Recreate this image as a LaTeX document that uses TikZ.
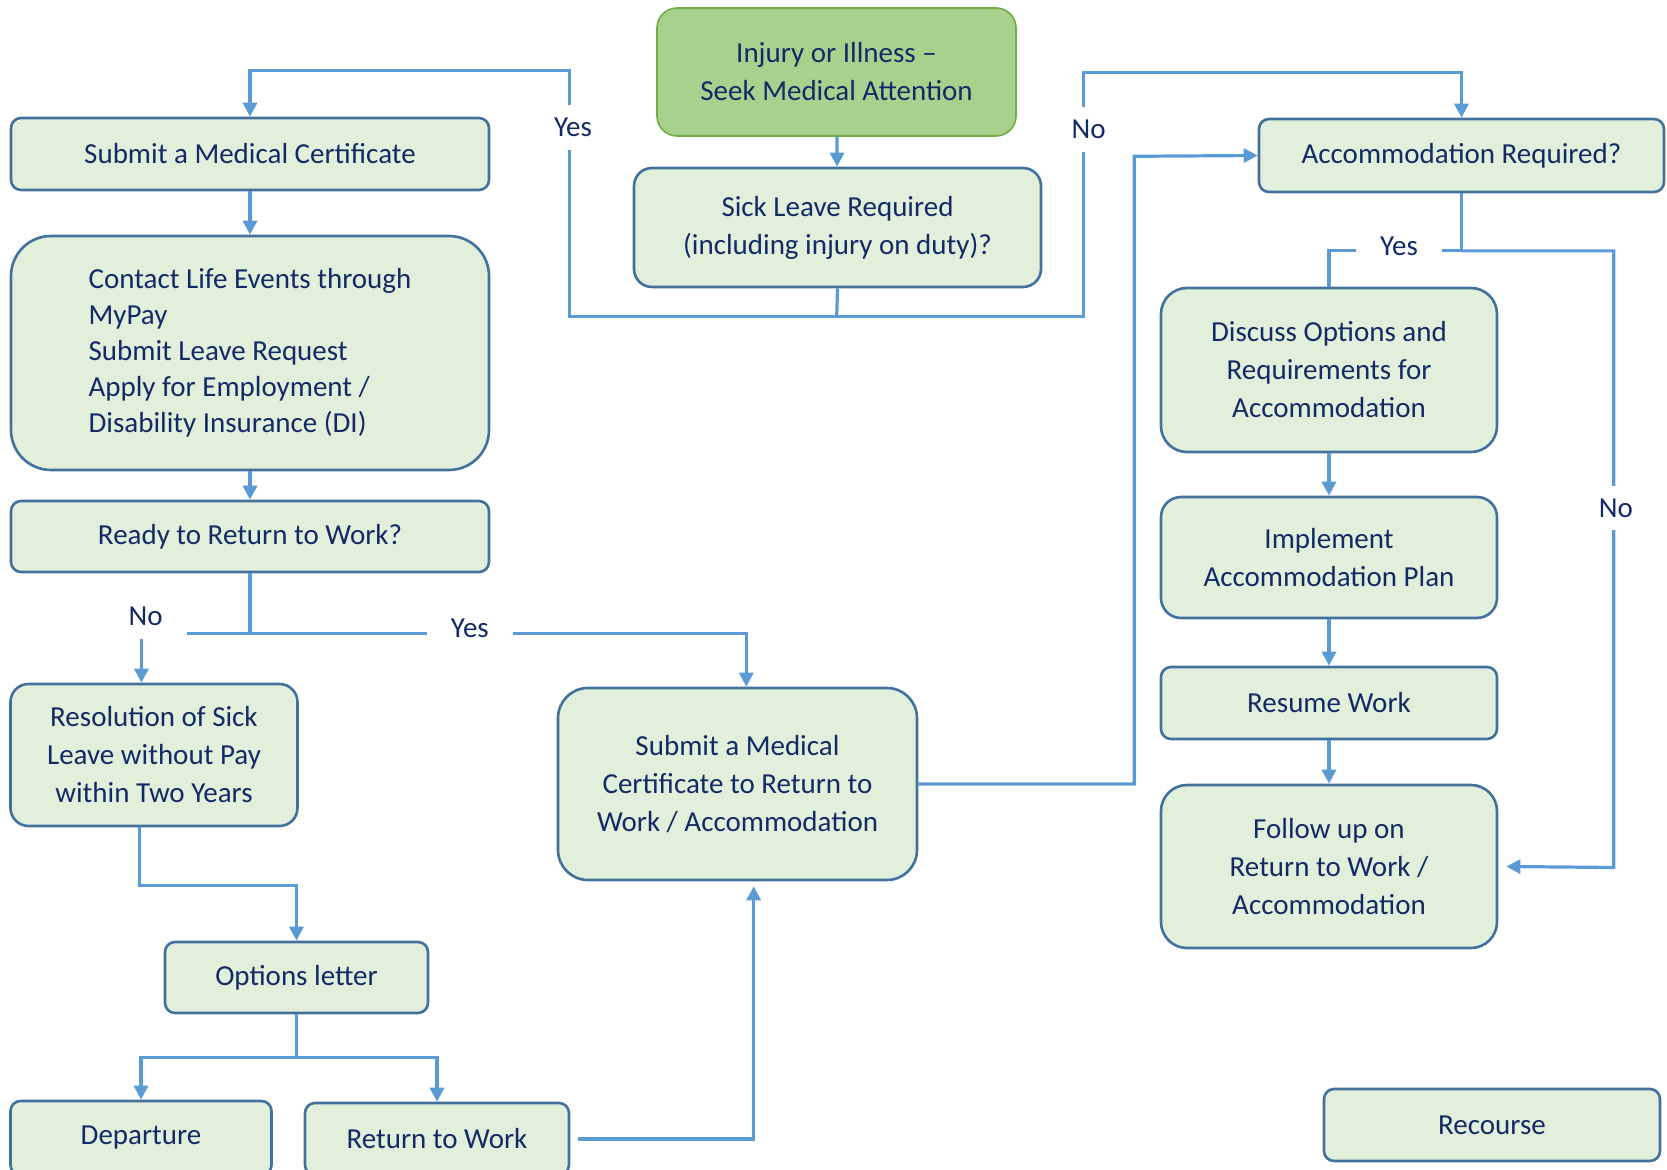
\documentclass[tikz,border=0pt]{standalone}
\usepackage{fontspec}
\setmainfont{Carlito}
\usetikzlibrary{arrows.meta}
\definecolor{boxfill}{HTML}{E2EFDA}
\definecolor{boxline}{HTML}{41719C}
\definecolor{topfill}{HTML}{A9D18E}
\definecolor{topline}{HTML}{70AD47}
\definecolor{conn}{HTML}{5B9BD5}
\definecolor{txt}{HTML}{132A67}
\tikzset{
	box/.style={draw=boxline,fill=boxfill,line width=1.3pt,rounded corners=5pt,text=txt,align=center,inner sep=0pt,font=\fontsize{14.5}{19}\selectfont},
	topbox/.style={box,draw=topline,fill=topfill,line width=0.8pt,rounded corners=10pt},
	link/.style={draw=conn,line width=1.6pt},
	arr/.style={link,-{Triangle[length=7pt,width=7pt]}},
	lbl/.style={fill=white,text=txt,inner xsep=12pt,inner ysep=6.5pt,font=\fontsize{14.5}{19}\selectfont}
}
\begin{document}
\begin{tikzpicture}[x=0.5pt,y=-0.5pt]
		\useasboundingbox (0,0) rectangle (1667,1170);
		\node[topbox,minimum width=179.5pt,minimum height=64pt] (top) at (836.5,72) {Injury or Illness --\\Seek Medical Attention};
		\node[box,rounded corners=9pt,minimum width=203.5pt,minimum height=59.5pt] (sick) at (837.5,227.5) {Sick Leave Required\\(including injury on duty)?};
		\node[box,minimum width=239pt,minimum height=36pt] (cert) at (250,154) {Submit a Medical Certificate};
		\node[box,rounded corners=20pt,align=left,minimum width=239pt,minimum height=117pt,font=\fontsize{14.5}{18}\selectfont] (contact) at (250,353) {Contact Life Events through\\MyPay\\Submit Leave Request\\Apply for Employment /\\Disability Insurance (DI)};
		\node[box,minimum width=239pt,minimum height=35.5pt] (ready) at (250,536.5) {Ready to Return to Work?};
		\node[box,rounded corners=9pt,minimum width=143.5pt,minimum height=71pt] (resol) at (154,755) {Resolution of Sick\\Leave without Pay\\within Two Years};
		\node[box,minimum width=131.5pt,minimum height=35.5pt] (letter) at (296.5,977.5) {Options letter};
		\node[box,minimum width=130.5pt,minimum height=37pt] (depart) at (141,1138) {Departure};
		\node[box,minimum width=132pt,minimum height=36pt] (rtw) at (437,1139) {Return to Work};
		\node[box,rounded corners=15pt,minimum width=179.5pt,minimum height=96pt] (certrtw) at (737.5,784) {Submit a Medical\\Certificate to Return to\\Work / Accommodation};
		\node[box,minimum width=202.5pt,minimum height=36.5pt] (accom) at (1461.5,155.5) {Accommodation Required?};
		\node[box,rounded corners=13pt,minimum width=168pt,minimum height=82pt] (discuss) at (1329,370) {Discuss Options and\\Requirements for\\Accommodation};
		\node[box,rounded corners=10pt,minimum width=168pt,minimum height=60.5pt] (plan) at (1329,557.5) {Implement\\Accommodation Plan};
		\node[box,minimum width=168pt,minimum height=36pt] (resume) at (1329,703) {Resume Work};
		\node[box,rounded corners=13pt,minimum width=168pt,minimum height=81.5pt] (follow) at (1329,866.5) {Follow up on\\Return to Work /\\Accommodation};
		\node[box,minimum width=168pt,minimum height=36pt] (recourse) at (1492,1125) {Recourse};
		\draw[arr] (top) -- (sick);
		\draw[link] (sick.south) -- (836.7,316.8);
		\draw[arr] (836.7,316.8) -| (569.8,70.2) -| (cert.north);
		\draw[arr] (836.7,316.8) -| (1083.3,72.3) -| (accom.north);
		\draw[arr] (cert) -- (contact);
		\draw[arr] (contact) -- (ready);
		\draw[arr] (ready.south) |- (141.4,633.6) -- (141.4,633.6 |- resol.north);
		\draw[arr] (ready.south) |- (746.3,633.6) -- (746.3,633.6 |- certrtw.north);
		\draw[arr] (139.3,0 |- resol.south) |- (296.5,885.5) -- (letter.north);
		\draw[link] (letter.south) -- (296.5,1057.8);
		\draw[arr] (296.5,1057.8) -| (depart.north);
		\draw[arr] (296.5,1057.8) -| (rtw.north);
		\draw[arr] ([xshift=4pt]rtw.east) -| ([yshift=-2.5pt]753.7,0 |- certrtw.south);
		\draw[arr] (certrtw.east) -| (1134.3,156.3) -- (accom.west);
		\draw[link] (accom.south) -- (1461.5,250.9) -| (discuss.north);
		\draw[arr] (1461.5,250.9) -| (1613.8,867.5) -- ([xshift=4pt]follow.east);
		\draw[arr] (discuss) -- (plan);
		\draw[arr] (plan) -- (resume);
		\draw[arr] (resume) -- (follow);
		\node[lbl] (yesA) at (573,127.6) {Yes};
		\node[lbl] (noA) at (1088.6,129.7) {No};
		\node[lbl] (noB) at (145.6,616.6) {No};
		\node[lbl] (yesB) at (469.9,628.3) {Yes};
		\node[lbl] (yesC) at (1399,246.6) {Yes};
		\node[lbl] (noC) at (1615.9,508) {No};
	\end{tikzpicture}
\end{document}
